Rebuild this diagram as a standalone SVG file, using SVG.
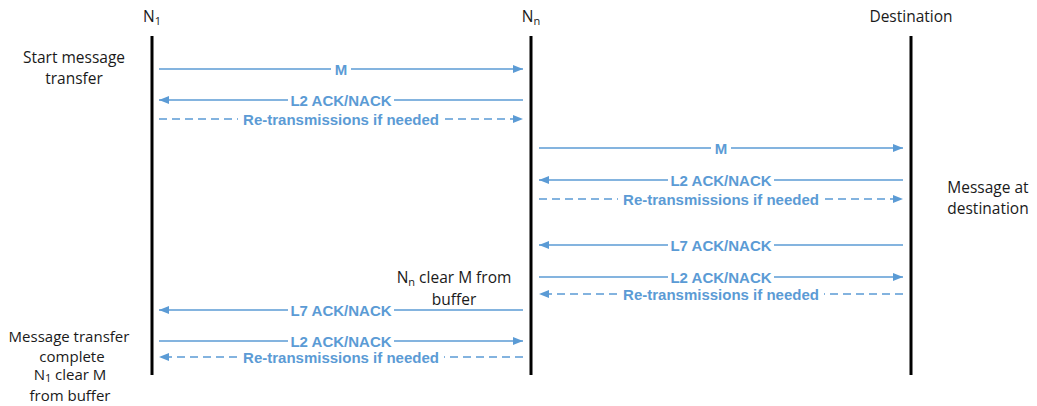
<svg xmlns="http://www.w3.org/2000/svg" width="1037" height="406" viewBox="0 0 1037 406">
  <style>
    .life { stroke: #000; stroke-width: 3; }
    .msg { stroke: #5b9bd5; stroke-width: 1.4; fill: none; }
    .dash { stroke-dasharray: 8 5; }
    .gap { fill: #fff; }
    .lbl { font-family: "Liberation Sans", Arial, sans-serif; font-size: 15px; font-weight: bold; fill: #5b9bd5; text-anchor: middle; }
    .txt { font-family: "Open Sans", "Liberation Sans", sans-serif; font-size: 15.5px; fill: #1a1a1a; text-anchor: middle; }
    .tight { font-size: 15px; }
    .sub { font-size: 11px; }
  </style>
  <defs>
    <marker id="head" markerUnits="userSpaceOnUse" markerWidth="11" markerHeight="8" refX="10" refY="4" orient="auto">
      <path d="M0,0 L10,4 L0,8 Z" fill="#5b9bd5"/>
    </marker>
    <!-- white backing that breaks a message line behind its label -->
    <rect id="gap-m" class="gap" x="-10" y="-7" width="20" height="14"/>
    <rect id="gap-ack" class="gap" x="-53" y="-7" width="106" height="14"/>
    <rect id="gap-re" class="gap" x="-103" y="-7" width="206" height="14"/>
  </defs>
  <rect width="1037" height="406" fill="#fff"/>

  <!-- lifelines -->
  <g id="node-n1">
    <text class="txt" x="152" y="22">N<tspan class="sub" dy="3">1</tspan></text>
    <line class="life" x1="152" y1="36" x2="152" y2="375"/>
  </g>
  <g id="node-nn">
    <text class="txt" x="531" y="22">N<tspan class="sub" dy="3">n</tspan></text>
    <line class="life" x1="531" y1="36" x2="531" y2="375"/>
  </g>
  <g id="node-destination">
    <text class="txt" x="911" y="22">Destination</text>
    <line class="life" x1="911" y1="36" x2="911" y2="375"/>
  </g>

  <!-- side notes -->
  <g id="note-start">
    <text class="txt" x="74" y="63">Start message</text>
    <text class="txt" x="74" y="84">transfer</text>
  </g>
  <g id="note-destination">
    <text class="txt" x="988" y="193">Message at</text>
    <text class="txt" x="988" y="214">destination</text>
  </g>
  <g id="note-nn-clear">
    <text class="txt" x="454" y="283">N<tspan class="sub" dy="3">n</tspan><tspan dy="-3"> clear M from</tspan></text>
    <text class="txt" x="454" y="305">buffer</text>
  </g>
  <g id="note-complete">
    <text class="txt tight" x="69" y="342">Message transfer</text>
    <text class="txt tight" x="72" y="362">complete</text>
  </g>
  <g id="note-n1-clear">
    <text class="txt tight" x="70" y="380">N<tspan class="sub" dy="2">1</tspan><tspan dy="-2"> clear M</tspan></text>
    <text class="txt tight" x="70" y="401">from buffer</text>
  </g>

  <!-- messages -->
  <g id="connectors">
    <!-- N1 <-> Nn, first exchange -->
    <line class="msg" x1="159" y1="69" x2="523" y2="69" marker-end="url(#head)"/>
    <use href="#gap-m" x="341" y="69"/>
    <text class="lbl" x="341" y="74.5">M</text>
    <line class="msg" x1="523" y1="100" x2="159" y2="100" marker-end="url(#head)"/>
    <use href="#gap-ack" x="341" y="100"/>
    <text class="lbl" x="341" y="105.5">L2 ACK/NACK</text>
    <line class="msg dash" x1="159" y1="119" x2="523" y2="119" marker-end="url(#head)"/>
    <use href="#gap-re" x="341" y="119"/>
    <text class="lbl" x="341" y="124.5">Re-transmissions if needed</text>

    <!-- Nn <-> Destination -->
    <line class="msg" x1="539" y1="148" x2="903" y2="148" marker-end="url(#head)"/>
    <use href="#gap-m" x="721" y="148"/>
    <text class="lbl" x="721" y="153.5">M</text>
    <line class="msg" x1="903" y1="180" x2="539" y2="180" marker-end="url(#head)"/>
    <use href="#gap-ack" x="721" y="180"/>
    <text class="lbl" x="721" y="185.5">L2 ACK/NACK</text>
    <line class="msg dash" x1="539" y1="199" x2="903" y2="199" marker-end="url(#head)"/>
    <use href="#gap-re" x="721" y="199"/>
    <text class="lbl" x="721" y="204.5">Re-transmissions if needed</text>

    <line class="msg" x1="903" y1="245" x2="539" y2="245" marker-end="url(#head)"/>
    <use href="#gap-ack" x="721" y="245"/>
    <text class="lbl" x="721" y="250.5">L7 ACK/NACK</text>
    <line class="msg" x1="539" y1="277" x2="903" y2="277" marker-end="url(#head)"/>
    <use href="#gap-ack" x="721" y="277"/>
    <text class="lbl" x="721" y="282.5">L2 ACK/NACK</text>
    <line class="msg dash" x1="903" y1="294" x2="539" y2="294" marker-end="url(#head)"/>
    <use href="#gap-re" x="721" y="294"/>
    <text class="lbl" x="721" y="299.5">Re-transmissions if needed</text>

    <!-- Nn <-> N1, closing exchange -->
    <line class="msg" x1="523" y1="310" x2="159" y2="310" marker-end="url(#head)"/>
    <use href="#gap-ack" x="341" y="310"/>
    <text class="lbl" x="341" y="315.5">L7 ACK/NACK</text>
    <line class="msg" x1="159" y1="341" x2="523" y2="341" marker-end="url(#head)"/>
    <use href="#gap-ack" x="341" y="341"/>
    <text class="lbl" x="341" y="346.5">L2 ACK/NACK</text>
    <line class="msg dash" x1="523" y1="357" x2="159" y2="357" marker-end="url(#head)"/>
    <use href="#gap-re" x="341" y="357"/>
    <text class="lbl" x="341" y="362.5">Re-transmissions if needed</text>
  </g>
</svg>
